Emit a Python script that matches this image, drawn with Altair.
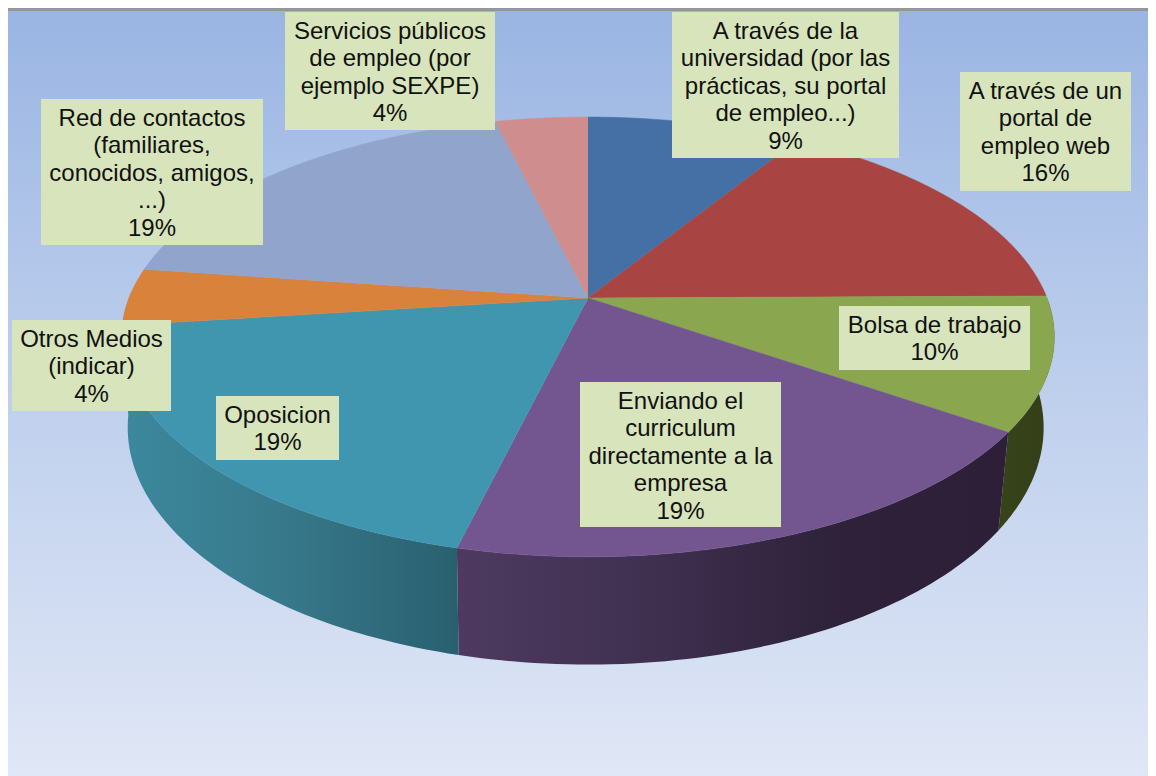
import math
import altair as alt
import pandas as pd

categories = [
    "A través de la universidad (por las prácticas, su portal de empleo...)",
    "A través de un portal de empleo web",
    "Bolsa de trabajo",
    "Enviando el curriculum directamente a la empresa",
    "Oposicion",
    "Otros Medios (indicar)",
    "Red de contactos (familiares, conocidos, amigos, ...)",
    "Servicios públicos de empleo (por ejemplo SEXPE)",
]
# slice sizes; they round to the printed percentages
values = [8.8, 16.05, 9.75, 19.2, 19.2, 4.2, 19.0, 3.8]
label_lines = [
    ["A través de la", "universidad (por las", "prácticas, su portal", "de empleo...)", "9%"],
    ["A través de un", "portal de", "empleo web", "16%"],
    ["Bolsa de trabajo", "10%"],
    ["Enviando el", "curriculum", "directamente a la", "empresa", "19%"],
    ["Oposicion", "19%"],
    ["Otros Medios", "(indicar)", "4%"],
    ["Red de contactos", "(familiares,", "conocidos, amigos,", "...)", "19%"],
    ["Servicios públicos", "de empleo (por", "ejemplo SEXPE)", "4%"],
]
face_colors = ["#4470A5", "#A84442", "#8AA64F", "#735690", "#4096AE", "#D9823C", "#91A5CC", "#CF8E8D"]

# label box placement on the page: left, top, right, bottom
label_boxes = [
    (672, 12, 899, 158),
    (960, 72, 1131, 191),
    (839, 306, 1030, 370),
    (580, 382, 781, 527),
    (216, 396, 339, 460),
    (12, 320, 171, 411),
    (41, 99, 263, 245),
    (285, 12, 495, 130),
]

W, H = 1140, 768
X0, Y0, A, B, P = 588.0, 298.0, 213.0, 459.0, 0.177


def rim(theta):
    u, v = math.sin(theta), math.cos(theta)
    s = 1 / (1 + P * v)
    return X0 + B * u * s, Y0 - A * v * s


def lower(theta):
    x, y = rim(theta)
    f = 0.977 if x > X0 else 0.987
    return X0 + f * (x - X0), 385.6 + 1.078 * (y - Y0)


def steps(a, b, n=60):
    return [a + (b - a) * i / n for i in range(n + 1)]


xs = alt.X("x:Q", scale=alt.Scale(domain=[8, 8 + W], nice=False, zero=False), axis=None)
ys = alt.Y("y:Q", scale=alt.Scale(domain=[8 + H, 8], nice=False, zero=False), axis=None)


def poly(points, **mark):
    df = pd.DataFrame([{"x": x, "y": y, "i": i} for i, (x, y) in enumerate(points)])
    return alt.Chart(df).mark_line(**mark).encode(x=xs, y=ys, order=alt.Order("i:Q"))


def grad(*stops):
    return alt.LinearGradient(
        gradient="linear", x1=0, x2=1, y1=0, y2=0,
        stops=[alt.GradientStop(color=c, offset=o) for o, c in stops],
    )


total = sum(values)
bounds = [0.0]
for v in values:
    bounds.append(bounds[-1] + v / total * 2 * math.pi)

side_fills = {
    2: grad((0, "#374319"), (1, "#343F18")),
    3: grad((0, "#4E3A60"), (0.35, "#3F3050"), (0.7, "#2E2139"), (1, "#2C1F37")),
    4: grad((0, "#3C889D"), (0.45, "#387A8C"), (1, "#29606F")),
    5: grad((0, "#B06A30"), (1, "#A96530")),
}

background = alt.Chart(pd.DataFrame({"a": [0]})).mark_rect(
    fill=alt.LinearGradient(
        gradient="linear", x1=0, x2=0, y1=0, y2=1,
        stops=[
            alt.GradientStop(color="#9AB5E3", offset=0),
            alt.GradientStop(color="#BBCDEC", offset=0.45),
            alt.GradientStop(color="#E0E7F6", offset=1),
        ],
    )
).encode(x=alt.value(0), x2=alt.value(W), y=alt.value(2), y2=alt.value(H))

border = alt.Chart(pd.DataFrame({"a": [0]})).mark_rect(fill="#969696").encode(
    x=alt.value(0), x2=alt.value(W), y=alt.value(0), y2=alt.value(3)
)

layers = [background, border]

# side wall, back to front
for i in [5, 2, 3, 4]:
    a = max(bounds[i], math.radians(90))
    b = min(bounds[i + 1], math.radians(272))
    if a >= b:
        continue
    pts = [rim(t) for t in steps(a, b)] + [lower(t) for t in steps(b, a)]
    layers.append(poly(pts, fill=side_fills[i], strokeOpacity=0))

# top faces
for i, c in enumerate(face_colors):
    pts = [(X0, Y0)] + [rim(t) for t in steps(bounds[i], bounds[i + 1])]
    layers.append(poly(pts, fill=c, stroke=c, strokeWidth=0.5))

# labels
box_df = pd.DataFrame(
    [{"category": c, "x": b[0], "x2": b[2], "y": b[1], "y2": b[3]} for c, b in zip(categories, label_boxes)]
)
layers.append(
    alt.Chart(box_df).mark_rect(fill="#D8E4BC").encode(x=xs, x2="x2:Q", y=ys, y2="y2:Q")
)
rows = []
for lines, b in zip(label_lines, label_boxes):
    for k, t in enumerate(lines):
        rows.append({"t": t, "x": (b[0] + b[2]) / 2, "y": b[1] + 19.5 + 27.5 * k})
layers.append(
    alt.Chart(pd.DataFrame(rows))
    .mark_text(font="Liberation Sans", fontSize=24, color="#111111", align="center", baseline="middle")
    .encode(x=xs, y=ys, text="t:N")
)

chart = (
    alt.layer(*layers)
    .properties(width=W, height=H, padding=0, autosize=alt.AutoSizeParams(type="none"))
    .configure_view(stroke=None)
)
chart.save("out.html", embed_options={"renderer": "svg", "actions": False})
